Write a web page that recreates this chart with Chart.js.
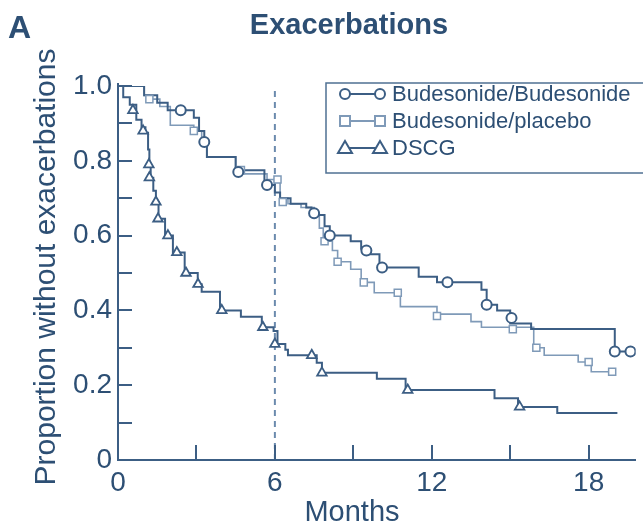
<!DOCTYPE html>
<html>
<head>
<meta charset="utf-8">
<title>Exacerbations</title>
<script src="https://cdn.jsdelivr.net/npm/chart.js"></script>
<style>
  html, body { margin: 0; padding: 0; background: #fff; }
</style>
</head>
<body>
<canvas id="kmChart" width="643" height="529"></canvas>

<script>
// Kaplan-Meier steps: month of the drop, proportion after it
const budBudMonths = [0, 1.0, 1.5, 1.9, 2.9, 3.1, 3.3, 3.4, 4.5, 5.6, 6.0, 6.2, 6.6, 7.2, 7.4, 7.9, 8.1, 8.9, 9.3, 9.6, 10.0, 11.5, 12.2, 13.9, 14.1, 14.5, 15.0, 15.8, 19.0, 19.6];
const budBudProp   = [1.0, 0.975, 0.955, 0.935, 0.915, 0.88, 0.85, 0.81, 0.775, 0.735, 0.715, 0.70, 0.685, 0.675, 0.655, 0.625, 0.60, 0.585, 0.565, 0.55, 0.515, 0.49, 0.475, 0.455, 0.415, 0.40, 0.365, 0.35, 0.29, 0.29];

const budPlaMonths = [0, 1.0, 1.2, 1.6, 2.0, 2.9, 3.2, 3.4, 4.5, 4.8, 5.7, 6.2, 6.5, 7.0, 7.5, 7.7, 7.85, 8.2, 8.4, 8.9, 9.3, 9.8, 10.8, 12.2, 13.5, 13.9, 15.9, 16.3, 17.6, 18.1, 18.9];
const budPlaProp   = [1.0, 0.975, 0.965, 0.945, 0.895, 0.88, 0.85, 0.81, 0.775, 0.765, 0.75, 0.70, 0.685, 0.675, 0.655, 0.62, 0.585, 0.56, 0.53, 0.51, 0.475, 0.447, 0.41, 0.39, 0.37, 0.355, 0.30, 0.28, 0.262, 0.236, 0.236];

const dscgMonths = [0, 0.2, 0.45, 0.7, 0.9, 1.05, 1.15, 1.2, 1.25, 1.35, 1.45, 1.55, 1.8, 2.1, 2.55, 3.05, 3.2, 3.9, 4.7, 5.5, 5.95, 6.1, 6.4, 6.5, 7.6, 7.8, 9.9, 11.0, 14.4, 15.3, 16.8, 19.1];
const dscgProp   = [1.0, 0.97, 0.95, 0.91, 0.89, 0.875, 0.83, 0.79, 0.755, 0.72, 0.69, 0.645, 0.60, 0.555, 0.50, 0.47, 0.45, 0.40, 0.383, 0.355, 0.345, 0.31, 0.295, 0.28, 0.26, 0.233, 0.217, 0.187, 0.165, 0.142, 0.126, 0.126];

// censoring marks
const budBudMarkMonths = [2.4, 3.3, 4.6, 5.7, 7.5, 8.1, 9.5, 10.1, 12.6, 14.1, 15.05, 19.0, 19.6];
const budBudMarkProp   = [0.935, 0.85, 0.77, 0.735, 0.66, 0.60, 0.56, 0.515, 0.475, 0.415, 0.38, 0.29, 0.29];
const budPlaMarkMonths = [1.2, 2.9, 4.7, 6.1, 6.3, 7.9, 8.4, 9.4, 10.7, 12.2, 15.1, 16.0, 18.0, 18.9];
const budPlaMarkProp   = [0.965, 0.88, 0.775, 0.75, 0.69, 0.585, 0.53, 0.475, 0.447, 0.385, 0.35, 0.30, 0.262, 0.236];
const dscgMarkMonths = [0.57, 0.96, 1.18, 1.2, 1.45, 1.53, 1.91, 2.25, 2.6, 3.06, 3.97, 5.54, 6.0, 7.41, 7.8, 11.08, 15.36];
const dscgMarkProp   = [0.935, 0.88, 0.79, 0.755, 0.69, 0.645, 0.60, 0.555, 0.50, 0.47, 0.40, 0.355, 0.31, 0.28, 0.233, 0.187, 0.142];

const seriesNames = ['Budesonide/Budesonide', 'Budesonide/placebo', 'DSCG'];
const xTickValues = [0, 3, 6, 9, 12, 15, 18];
const yTickValues = [0, 0.1, 0.2, 0.3, 0.4, 0.5, 0.6, 0.7, 0.8, 0.9, 1.0];
const splitMonth = 6;

const textColor = '#2d4f74';
const darkLine = '#3c5e84';
const lightLine = '#7f9ab8';
const fontFamily = '"Liberation Sans", Arial, Helvetica, sans-serif';

function pts(xs, ys) {
    return xs.map((x, i) => ({ x: x, y: ys[i] }));
}

function stepSet(label, xs, ys, color, width) {
    return {
        label: label,
        data: pts(xs, ys),
        showLine: true,
        borderColor: color,
        borderWidth: width,
        stepped: 'before',
        pointRadius: 0,
        fill: false
    };
}

function markSet(label, xs, ys, color, style, radius, width) {
    return {
        label: label,
        data: pts(xs, ys),
        showLine: false,
        pointStyle: style,
        pointRadius: radius,
        pointBorderWidth: width,
        pointBorderColor: color,
        pointBackgroundColor: '#ffffff'
    };
}

// inward tick marks, titles and the boxed legend
const decorations = {
    id: 'decorations',
    afterDraw(chart) {
        const ctx = chart.ctx;
        const xs = chart.scales.x;
        const ys = chart.scales.y;
        const area = chart.chartArea;
        ctx.save();
        ctx.strokeStyle = darkLine;
        ctx.lineWidth = 2;
        xTickValues.forEach(v => {
            const px = Math.round(xs.getPixelForValue(v));
            ctx.beginPath();
            ctx.moveTo(px, area.bottom);
            ctx.lineTo(px, area.bottom - 15);
            ctx.stroke();
        });
        yTickValues.forEach(v => {
            const py = Math.round(ys.getPixelForValue(v));
            ctx.beginPath();
            ctx.moveTo(area.left, py);
            ctx.lineTo(area.left + 14, py);
            ctx.stroke();
        });
        // axis line runs a little past 1.0
        ctx.beginPath();
        ctx.moveTo(area.left, area.top);
        ctx.lineTo(area.left, area.top - 3);
        ctx.stroke();

        ctx.fillStyle = textColor;
        ctx.textBaseline = 'alphabetic';
        ctx.font = 'bold 32px ' + fontFamily;
        ctx.textAlign = 'left';
        ctx.fillText('A', 8, 38);
        ctx.font = 'bold 29px ' + fontFamily;
        ctx.textAlign = 'center';
        ctx.fillText('Exacerbations', 349, 34);

        ctx.font = '29px ' + fontFamily;
        ctx.fillText('Months', 352, 521);
        ctx.save();
        ctx.translate(55, 267);
        ctx.rotate(-Math.PI / 2);
        ctx.font = '30px ' + fontFamily;
        ctx.fillText('Proportion without exacerbations', 0, 0);
        ctx.restore();

        // legend box
        ctx.strokeStyle = '#4f7093';
        ctx.lineWidth = 1.5;
        ctx.strokeRect(326, 83, 318, 90);
        const rows = [94, 121, 148];
        const styles = [
            { color: darkLine, shape: 'circle' },
            { color: lightLine, shape: 'rect' },
            { color: darkLine, shape: 'triangle' }
        ];
        rows.forEach((ry, i) => {
            const st = styles[i];
            ctx.strokeStyle = st.color;
            ctx.lineWidth = 2;
            ctx.beginPath();
            ctx.moveTo(347, ry);
            ctx.lineTo(380, ry);
            ctx.stroke();
            [345, 380].forEach(cx => {
                ctx.fillStyle = '#ffffff';
                ctx.beginPath();
                if (st.shape === 'circle') {
                    ctx.arc(cx, ry, 5, 0, Math.PI * 2);
                } else if (st.shape === 'rect') {
                    ctx.rect(cx - 5, ry - 5, 10, 10);
                } else {
                    ctx.moveTo(cx, ry - 7);
                    ctx.lineTo(cx + 7, ry + 5);
                    ctx.lineTo(cx - 7, ry + 5);
                    ctx.closePath();
                }
                ctx.fill();
                ctx.stroke();
            });
            ctx.fillStyle = textColor;
            ctx.font = '22px ' + fontFamily;
            ctx.textAlign = 'left';
            ctx.textBaseline = 'middle';
            ctx.fillText(seriesNames[i], 392, ry + 1);
        });
        ctx.restore();
    }
};

const ctx = document.getElementById('kmChart').getContext('2d');
const kmChart = new Chart(ctx, {
    type: 'scatter',
    data: {
        datasets: [
            markSet('Budesonide/Budesonide censored', budBudMarkMonths, budBudMarkProp, darkLine, 'circle', 5, 2),
            markSet('Budesonide/placebo censored', budPlaMarkMonths, budPlaMarkProp, lightLine, 'rect', 5, 1.5),
            markSet('DSCG censored', dscgMarkMonths, dscgMarkProp, darkLine, 'triangle', 5.5, 1.8),
            stepSet(seriesNames[0], budBudMonths, budBudProp, darkLine, 2),
            stepSet(seriesNames[1], budPlaMonths, budPlaProp, lightLine, 1.6),
            stepSet(seriesNames[2], dscgMonths, dscgProp, darkLine, 2),
            {
                label: '6 months',
                data: [{ x: splitMonth, y: 0 }, { x: splitMonth, y: 1 }],
                borderColor: '#6b8aad',
                borderWidth: 2,
                borderDash: [6, 5],
                pointRadius: 0,
                showLine: true
            }
        ]
    },
    options: {
        responsive: false,
        animation: false,
        layout: { padding: { top: 86, right: 6, left: 0, bottom: 0 } },
        plugins: {
            legend: { display: false },
            tooltip: { enabled: false }
        },
        scales: {
            x: {
                type: 'linear',
                min: 0,
                max: 19.8,
                afterFit: s => { s.height = 69; },
                border: { display: true, color: darkLine, width: 2 },
                grid: { display: false, drawTicks: false },
                ticks: {
                    stepSize: 6,
                    includeBounds: false,
                    maxRotation: 0,
                    padding: 6,
                    color: textColor,
                    font: { family: fontFamily, size: 28 }
                }
            },
            y: {
                min: 0,
                max: 1,
                afterFit: s => { s.width = 118; },
                border: { display: true, color: darkLine, width: 2 },
                grid: { display: false, drawTicks: false },
                ticks: {
                    stepSize: 0.2,
                    padding: 6,
                    color: textColor,
                    font: { family: fontFamily, size: 28 },
                    callback: v => (v === 0 ? '0' : v.toFixed(1))
                }
            }
        }
    },
    plugins: [decorations]
});
</script>
</body>
</html>
